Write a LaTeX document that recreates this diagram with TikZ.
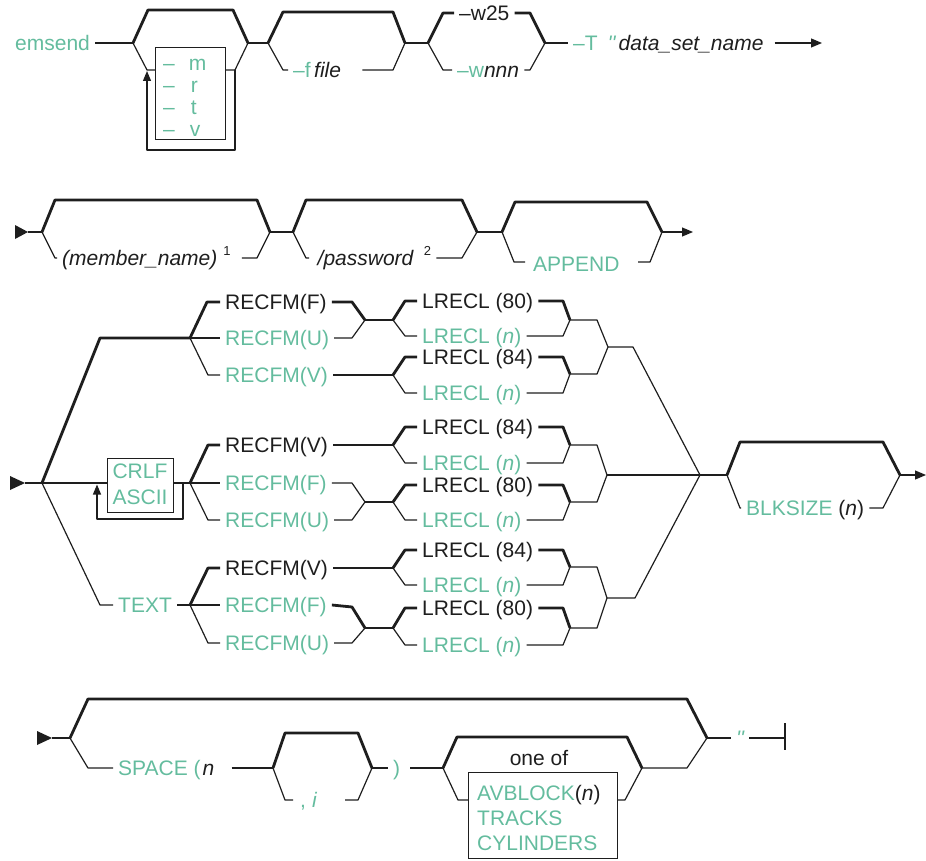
\documentclass[tikz,border=0pt]{standalone}
\usepackage{fontspec}
\setmainfont{Liberation Sans}
\newfontfamily\qfont{Liberation Sans}[Ligatures=ResetAll]
\usetikzlibrary{arrows.meta}
\definecolor{g}{RGB}{100,188,158}
\definecolor{ink}{RGB}{30,30,30}
\tikzset{
  thn/.style={line width=1.2pt, draw=ink, line join=round},
  thk/.style={line width=2.8pt, draw=ink, line join=round},
  lbl/.style={anchor=west, inner xsep=5pt, inner ysep=0pt, text height=15pt, text depth=0pt, text=ink, font=\fontsize{21}{24}\selectfont},
  gl/.style={lbl, text=g},
  tip/.style={-{Triangle[length=11pt,width=9pt]}},
  uptip/.style={-{Triangle[length=10pt,width=8pt]}}
}
\newcommand{\supn}[1]{\raisebox{10pt}{\fontsize{13}{15}\selectfont #1}}
\newcommand{\ticks}{{\qfont\itshape ''}}
\begin{document}
\begin{tikzpicture}[x=1pt,y=-1pt]
\useasboundingbox (0,0) rectangle (926,861);

% ================= Row 1 =================
\node[gl] (emsend) at (10,43) {emsend};
\coordinate (s1) at (133,43);
\coordinate (m1) at (248,43);
\draw[thn] (emsend.east) -- (s1);
\draw[thk] (s1) -- (148,10) -- (233,10) -- (m1);
\node[draw=ink, line width=1.2pt, minimum width=70pt, minimum height=92pt, inner sep=0pt, anchor=north west] (box1) at (155,47) {};
\draw[thn] (s1) -- (147,70) -- (155,70);
\node[gl] (om) at (158,63) {–\hspace{14pt}m};
\node[gl] (or) at (158,85) {–\hspace{16pt}r};
\node[gl] (ot) at (158,107) {–\hspace{16pt}t};
\node[gl] (ov) at (158,129) {–\hspace{15pt}v};
\draw[thn] (225,70) -- (235,70) -- (m1);
\draw[thn, uptip] (235,70) -- (235,150) -- (147,150) -- (147,71);

\coordinate (s2) at (268,43);
\coordinate (m2) at (405,43);
\draw[thn] (m1) -- (s2);
\draw[thk] (s2) -- (283,12) -- (393,12) -- (m2);
\node[lbl] (ff) at (288,70) {\textcolor{g}{–f}\,\textit{file}};
\draw[thn] (s2) -- (283,70) -- (ff.west);
\draw[thn] ([xshift=16pt]ff.east) -- (393,70) -- (m2);

\coordinate (s3) at (428,43);
\coordinate (m3) at (545,43);
\draw[thn] (m2) -- (s3);
\node[lbl] (w25) at (454,13) {–w25};
\draw[thk] (s3) -- (443,13) -- (w25.west);
\draw[thk] (w25.east) -- (530,13) -- (m3);
\node[lbl] (wn) at (452,70) {\textcolor{g}{–w}\textit{nnn}};
\draw[thn] (s3) -- (443,70) -- (wn.west);
\draw[thn] (wn.east) -- (530,70) -- (m3);

\node[lbl] (T) at (568,43) {\textcolor{g}{–T\hspace{10pt}\ticks}\hspace{3pt}\textit{data\_set\_name}};
\coordinate (e1) at (822,43);
\draw[thn] (m3) -- (T.west);
\draw[thn, tip] ([xshift=6pt]T.east) -- (e1);

% ================= Row 2 =================
\fill[ink] (15,225) -- (28,232) -- (15,239) -- cycle;
\coordinate (st2) at (28,232);
\coordinate (s4) at (42,232);
\coordinate (m4) at (270,232);
\draw[thn] (st2) -- (s4);
\draw[thk] (s4) -- (55,200) -- (257,200) -- (m4);
\node[lbl] (mem) at (57,258) {\textit{(member\_name)}\hspace{6pt}\supn{1}};
\draw[thn] (s4) -- (55,258) -- (mem.west);
\draw[thn] ([xshift=6pt]mem.east) -- (257,258) -- (m4);

\coordinate (s5) at (293,232);
\coordinate (m5) at (477,232);
\draw[thn] (m4) -- (s5);
\draw[thk] (s5) -- (306,200) -- (462,200) -- (m5);
\node[lbl] (pw) at (309,258) {\textit{\,/password}\hspace{10pt}\supn{2}};
\draw[thn] (s5) -- (306,258) -- (pw.west);
\draw[thn] (pw.east) -- (462,258) -- (m5);

\coordinate (s6) at (502,232);
\coordinate (m6) at (662,232);
\draw[thn] (m5) -- (s6);
\draw[thk] (s6) -- (515,202) -- (647,202) -- (m6);
\node[gl] (app) at (528,264) {APPEND};
\draw[thn] (s6) -- (514,262) -- (525,262);
\draw[thn] (638,262) -- (650,262) -- (m6);
\coordinate (e2) at (693,232);
\draw[thn, tip] (m6) -- (e2);

% ================= Row 3 =================
\fill[ink] (10,476) -- (25,483) -- (10,490) -- cycle;
\coordinate (st3) at (25,483);
\coordinate (sA) at (42,483);
\draw[thn] (st3) -- (sA);

% --- branch A (default) ---
\coordinate (sA1) at (190,338);
\draw[thk] (sA) -- (100,338) -- (sA1);
\node[lbl] (RFa) at (220,302) {RECFM(F)};
\node[gl] (RUa) at (220,338) {RECFM(U)};
\node[gl] (RVa) at (220,375) {RECFM(V)};
\draw[thk] (sA1) -- (207,302) -- (RFa.west);
\draw[thn] (sA1) -- (RUa.west);
\draw[thn] (sA1) -- (208,375) -- (RVa.west);
\coordinate (mA1) at (365,320);
\coordinate (sA2) at (393,320);
\draw[thk] (RFa.east) -- (352,302) -- (mA1);
\draw[thn] (RUa.east) -- (352,338) -- (mA1);
\draw[thn] (mA1) -- (sA2);
\node[lbl] (L80a) at (417,301) {LRECL (80)};
\node[gl] (Lna) at (417,336) {LRECL (\textit{n})};
\draw[thk] (sA2) -- (405,301) -- (L80a.west);
\draw[thn] (sA2) -- (405,336) -- (Lna.west);
\coordinate (mA2) at (570,320);
\draw[thk] (L80a.east) -- (563,301) -- (mA2);
\draw[thn] (Lna.east) -- (563,336) -- (mA2);
\coordinate (jA) at (608,347);
\draw[thn] (mA2) -- (597,320) -- (jA);

\coordinate (sA3) at (393,375);
\draw[thn] (RVa.east) -- (sA3);
\node[lbl] (L84a) at (417,357) {LRECL (84)};
\node[gl] (Lnb) at (417,393) {LRECL (\textit{n})};
\draw[thk] (sA3) -- (405,357) -- (L84a.west);
\draw[thn] (sA3) -- (405,393) -- (Lnb.west);
\coordinate (mA3) at (570,374);
\draw[thk] (L84a.east) -- (563,357) -- (mA3);
\draw[thn] (Lnb.east) -- (563,393) -- (mA3);
\draw[thn] (mA3) -- (597,374) -- (jA);

\coordinate (J) at (700,475);
\draw[thn] (jA) -- (633,347) -- (J);

% --- branch B (CRLF/ASCII) ---
\node[draw=ink, line width=1.2pt, minimum width=66pt, minimum height=54pt, inner sep=0pt, anchor=north west] (box3) at (107,458) {};
\node[gl, anchor=center] (crlf) at (140,471) {CRLF};
\node[gl, anchor=center] (ascii) at (140,497) {ASCII};
\draw[thn] (sA) -- (box3.west |- sA);
\coordinate (sB1) at (190,483);
\draw[thn] (box3.east |- sB1) -- (sB1);
\draw[thn, uptip] (183,483) -- (183,519) -- (97,519) -- (97,484.5);

\node[lbl] (RVb) at (220,445) {RECFM(V)};
\node[gl] (RFb) at (220,483) {RECFM(F)};
\node[gl] (RUb) at (220,520) {RECFM(U)};
\draw[thk] (sB1) -- (208,445) -- (RVb.west);
\draw[thn] (sB1) -- (RFb.west);
\draw[thn] (sB1) -- (208,520) -- (RUb.west);

\coordinate (sB2) at (393,445);
\draw[thk] (RVb.east) -- (sB2);
\node[lbl] (L84b) at (417,427) {LRECL (84)};
\node[gl] (Lnc) at (417,463) {LRECL (\textit{n})};
\draw[thk] (sB2) -- (405,427) -- (L84b.west);
\draw[thn] (sB2) -- (405,463) -- (Lnc.west);
\coordinate (mB2) at (570,445);
\draw[thk] (L84b.east) -- (563,427) -- (mB2);
\draw[thn] (Lnc.east) -- (563,463) -- (mB2);
\coordinate (jB) at (607,475);
\draw[thn] (mB2) -- (597,445) -- (jB);

\coordinate (mB3) at (365,502);
\coordinate (sB3) at (393,502);
\draw[thn] (RFb.east) -- (352,483) -- (mB3);
\draw[thn] (RUb.east) -- (352,520) -- (mB3);
\draw[thn] (mB3) -- (sB3);
\node[lbl] (L80b) at (417,485) {LRECL (80)};
\node[gl] (Lnd) at (417,520) {LRECL (\textit{n})};
\draw[thk] (sB3) -- (405,485) -- (L80b.west);
\draw[thn] (sB3) -- (405,520) -- (Lnd.west);
\coordinate (mB4) at (570,502);
\draw[thk] (L80b.east) -- (563,485) -- (mB4);
\draw[thn] (Lnd.east) -- (563,520) -- (mB4);
\draw[thn] (mB4) -- (597,502) -- (jB);
\draw[thn] (jB) -- (J);

% --- branch C (TEXT) ---
\node[gl] (text) at (113,605) {TEXT};
\coordinate (sC1) at (190,605);
\draw[thn] (sA) -- (100,605) -- (text.west);
\draw[thn] (text.east) -- (sC1);
\node[lbl] (RVc) at (220,568) {RECFM(V)};
\node[gl] (RFc) at (220,605) {RECFM(F)};
\node[gl] (RUc) at (220,643) {RECFM(U)};
\draw[thk] (sC1) -- (208,568) -- (RVc.west);
\draw[thn] (sC1) -- (RFc.west);
\draw[thn] (sC1) -- (208,643) -- (RUc.west);

\coordinate (sC2) at (393,568);
\draw[thk] (RVc.east) -- (sC2);
\node[lbl] (L84c) at (417,550) {LRECL (84)};
\node[gl] (Lne) at (417,585) {LRECL (\textit{n})};
\draw[thk] (sC2) -- (405,550) -- (L84c.west);
\draw[thn] (sC2) -- (405,585) -- (Lne.west);
\coordinate (mC2) at (570,567);
\draw[thk] (L84c.east) -- (563,550) -- (mC2);
\draw[thn] (Lne.east) -- (563,585) -- (mC2);
\coordinate (jC) at (607,598);
\draw[thn] (mC2) -- (597,567) -- (jC);

\coordinate (mC3) at (365,628);
\coordinate (sC3) at (393,628);
\draw[thk] (RFc.east) -- (352,607) -- (mC3);
\draw[thn] (RUc.east) -- (352,643) -- (mC3);
\draw[thn] (mC3) -- (sC3);
\node[lbl] (L80c) at (417,608) {LRECL (80)};
\node[gl] (Lnf) at (417,645) {LRECL (\textit{n})};
\draw[thk] (sC3) -- (405,608) -- (L80c.west);
\draw[thn] (sC3) -- (405,645) -- (Lnf.west);
\coordinate (mC4) at (570,628);
\draw[thk] (L80c.east) -- (563,608) -- (mC4);
\draw[thn] (Lnf.east) -- (563,645) -- (mC4);
\draw[thn] (mC4) -- (597,628) -- (jC);
\draw[thn] (jC) -- (635,598) -- (J);

% --- BLKSIZE group ---
\coordinate (sD) at (727,475);
\coordinate (mD) at (900,475);
\draw[thn] (J) -- (sD);
\draw[thk] (sD) -- (740,442) -- (883,442) -- (mD);
\node[gl] (blk) at (741,508) {BLKSIZE \textcolor{ink}{(\textit{n})}};
\draw[thn] (sD) -- (740,508) -- (blk.west);
\draw[thn] (blk.east) -- (883,508) -- (mD);
\coordinate (e3) at (926,475);
\draw[thn, tip] (mD) -- (e3);

% ================= Row 4 =================
\fill[ink] (37,731) -- (52,738) -- (37,745) -- cycle;
\coordinate (st4) at (52,738);
\coordinate (sE) at (70,738);
\coordinate (mE) at (707,738);
\draw[thn] (st4) -- (sE);
\draw[thk] (sE) -- (88,699) -- (687,699) -- (mE);
\node[gl] (sp) at (113,768) {SPACE (\hspace{2pt}\textcolor{ink}{\textit{n}}};
\draw[thn] (sE) -- (88,768) -- (sp.west);
\coordinate (sF) at (273,768);
\coordinate (mF) at (372,768);
\draw[thn] ([xshift=12pt]sp.east) -- (sF);
\draw[thk] (sF) -- (285,733) -- (358,733) -- (mF);
\node[gl] (ci) at (295,800) {,\hspace{6pt}\textit{i}};
\draw[thn] (sF) -- (285,800) -- (293,800);
\draw[thn] (345,800) -- (358,800) -- (mF);
\node[gl] (rp) at (388,768) {)};
\draw[thn] (mF) -- (rp.west);
\coordinate (sG) at (443,768);
\coordinate (mG) at (642,768);
\draw[thn] ([xshift=5pt]rp.east) -- (sG);
\draw[thk] (sG) -- (457,737) -- (627,737) -- (mG);
\node[lbl, anchor=center] (oneof) at (539,758) {one of};
\node[draw=ink, line width=1.2pt, minimum width=149pt, minimum height=86pt, inner sep=0pt, anchor=north west] (box2) at (468,772) {};
\node[gl] (av) at (472,793) {AVBLOCK\textcolor{ink}{(\textit{n})}};
\node[gl] (tr) at (472,818) {TRACKS};
\node[gl] (cy) at (472,843) {CYLINDERS};
\draw[thn] (sG) -- (458,800) -- (box2.west |- 0,800);
\draw[thn] (box2.east |- 0,800) -- (625,800) -- (mG);
\draw[thn] (mG) -- (687,768) -- (mE);
\node[gl] (q2) at (731,738) {\ticks};
\draw[thn] (mE) -- (q2.west);
\coordinate (end4) at (785,738);
\draw[thn] (q2.east) -- (end4);
\draw[thn] (785,723) -- (785,750);
\end{tikzpicture}
\end{document}
